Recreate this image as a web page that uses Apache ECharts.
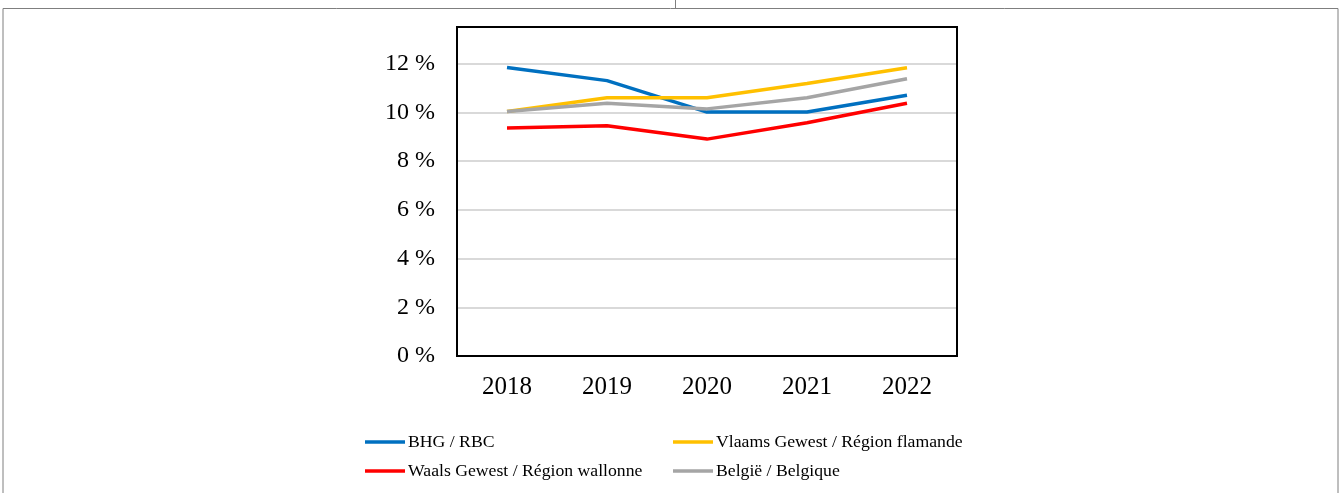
<!DOCTYPE html>
<html>
<head>
<meta charset="utf-8">
<script src="https://cdn.jsdelivr.net/npm/echarts@6/dist/echarts.min.js"></script>
<style>
  html, body { margin: 0; padding: 0; background: #fff; }
  #chart { width: 1341px; height: 493px; }
</style>
</head>
<body>
<div id="chart"></div>
<script>
// years on the x axis
const years = ['2018', '2019', '2020', '2021', '2022']

// values in %
const bhgRbc = [11.84, 11.3, 10.01, 10.01, 10.7]
const vlaams = [10.03, 10.6, 10.6, 11.18, 11.83]
const waals = [9.36, 9.45, 8.9, 9.57, 10.37]
const belgie = [10.03, 10.37, 10.14, 10.6, 11.38]

const names = [
  'BHG / RBC',
  'Vlaams Gewest / Région flamande',
  'Waals Gewest / Région wallonne',
  'België / Belgique'
]
const colors = ['#0070C0', '#FFC000', '#FF0000', '#A5A5A5']

const font = '"Liberation Serif", "Times New Roman", serif'

function makeLegend(name, left, top) {
  return {
    data: [name],
    left,
    top,
    padding: 0,
    icon: 'rect',
    itemWidth: 40,
    itemHeight: 3.5,
    selectedMode: false,
    textStyle: { fontFamily: font, fontSize: 17.7, color: '#000', lineHeight: 20, padding: [0, 0, 0, -2] }
  }
}

function makeLine(name, data, color) {
  return {
    name,
    type: 'line',
    data,
    symbol: 'none',
    color,
    lineStyle: { width: 3.5, color },
    z: 3
  }
}

const chart = echarts.init(document.getElementById('chart'), null, { renderer: 'canvas' })

chart.setOption({
  animation: false,
  backgroundColor: '#fff',
  grid: {
    left: 457,
    top: 27,
    width: 500,
    height: 329,
    show: true,
    borderColor: '#000',
    borderWidth: 2,
    z: 4
  },
  legend: [
    makeLegend(names[0], 365, 432),
    makeLegend(names[1], 673, 432),
    makeLegend(names[2], 365, 461),
    makeLegend(names[3], 673, 461)
  ],
  xAxis: {
    type: 'category',
    data: years,
    boundaryGap: true,
    axisLine: { show: false },
    axisTick: { show: false },
    axisLabel: { fontFamily: font, fontSize: 25, color: '#000', margin: 19 }
  },
  yAxis: {
    type: 'value',
    min: 0,
    max: 13.5,
    interval: 2,
    axisLine: { show: false },
    axisTick: { show: false },
    splitLine: { lineStyle: { color: '#d9d9d9', width: 2 } },
    axisLabel: {
      fontFamily: font,
      fontSize: 24,
      color: '#000',
      margin: 22,
      showMaxLabel: false,
      formatter: v => (v % 2 === 0 ? v + ' %' : '')
    }
  },
  series: [
    makeLine(names[0], bhgRbc, colors[0]),
    makeLine(names[1], vlaams, colors[1]),
    makeLine(names[2], waals, colors[2]),
    makeLine(names[3], belgie, colors[3])
  ],
  graphic: [
    // outer table cell border
    {
      type: 'polyline',
      shape: { points: [[3, 493], [3, 8.5], [1338, 8.5], [1338, 493]] },
      style: { stroke: '#7f7f7f', lineWidth: 1, fill: null },
      silent: true
    },
    {
      type: 'line',
      shape: { x1: 675.5, y1: 0, x2: 675.5, y2: 8 },
      style: { stroke: '#7f7f7f', lineWidth: 1 },
      silent: true
    }
  ]
})
</script>
</body>
</html>
